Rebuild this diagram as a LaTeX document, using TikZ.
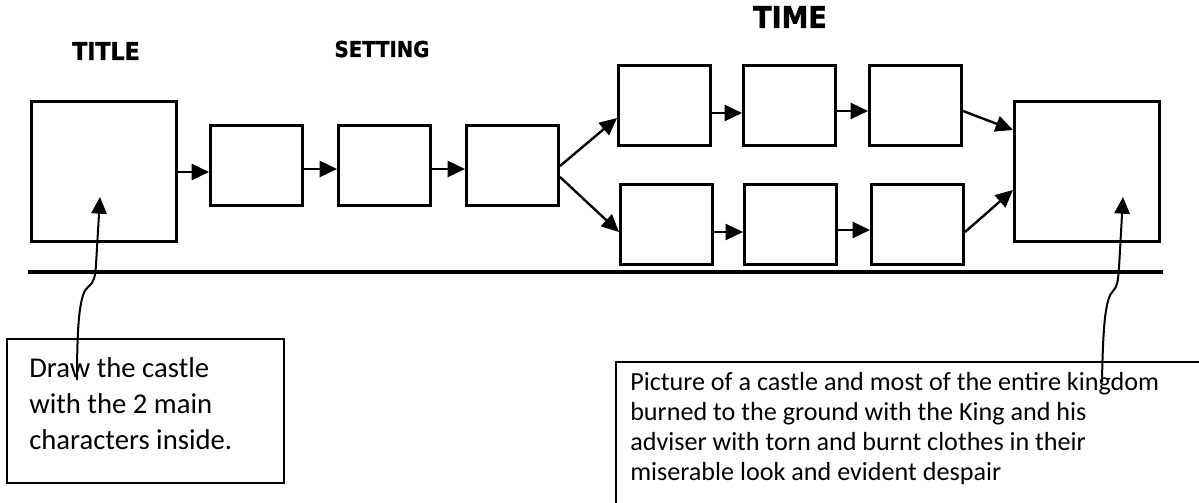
\documentclass[tikz,border=0pt]{standalone}
\usepackage{fontspec}
\usetikzlibrary{arrows.meta}
\newfontfamily\headfont{DejaVu Sans}[FakeStretch=0.9,FakeBold=1.2]
\newfontfamily\bodyfont{Carlito}
\tikzset{
  box/.style={draw=black, line width=2.25pt, inner sep=0pt, fill=white},
  bigbox/.style={box, minimum width=108.75pt, minimum height=105pt},
  smallbox/.style={box, minimum width=69pt, minimum height=60pt},
  arr/.style={line width=1.8pt, -{Triangle[length=13pt,width=12pt]}},
  curvearr/.style={line width=1.5pt, -{Triangle[length=12.5pt,width=11.5pt]}},
  heading/.style={anchor=base, inner sep=0pt, font=\headfont\bfseries},
  note/.style={anchor=base west, inner sep=0pt, align=left}
}
\begin{document}
\begin{tikzpicture}[x=0.75pt,y=-0.75pt]
\useasboundingbox (0,0) rectangle (1199,503);
% headings
\node[heading, font=\headfont\bfseries\fontsize{18.4}{22}\selectfont] (tTitle) at (106,60) {TITLE};
\node[heading, font=\headfont\bfseries\fontsize{16.4}{20}\selectfont] (tSetting) at (382,57) {SETTING};
\node[heading, font=\headfont\bfseries\fontsize{22.5}{26}\selectfont] (tTime) at (790,28) {TIME};
% boxes
\node[bigbox] (A) at (104,171.5) {};
\node[smallbox] (B1) at (256.5,165.5) {};
\node[smallbox] (B2) at (384.5,165.5) {};
\node[smallbox] (B3) at (512.5,165.5) {};
\node[smallbox] (U1) at (664.5,105.5) {};
\node[smallbox] (U2) at (789.5,105.5) {};
\node[smallbox] (U3) at (915.5,105.5) {};
\node[smallbox] (L1) at (666.5,224.5) {};
\node[smallbox] (L2) at (790.5,224.5) {};
\node[smallbox] (L3) at (917.5,224.5) {};
\node[bigbox] (F) at (1087,171.5) {};
% straight arrows
\draw[arr] (A.east |- 0,172) -- (B1.west |- 0,172);
\draw[arr] (B1.east |- 0,169) -- (B2.west |- 0,169);
\draw[arr] (B2.east |- 0,169) -- (B3.west |- 0,169);
\draw[arr] (B3.east |- 0,166) -- (U1.west |- 0,118);
\draw[arr] (B3.east |- 0,177) -- (L1.west |- 0,232);
\draw[arr] (U1.east |- 0,113) -- (U2.west |- 0,113);
\draw[arr] (U2.east |- 0,111) -- (U3.west |- 0,111);
\draw[arr] (L1.east |- 0,232) -- (L2.west |- 0,232);
\draw[arr] (L2.east |- 0,230) -- (L3.west |- 0,230);
\draw[arr] (U3.east |- 0,111) -- (F.west |- 0,130);
\draw[arr] (L3.east |- 0,232) -- (F.west |- 0,190);
% divider line
\draw[line width=2.4pt] (28,272) -- (1163,272);
% left note box
\draw[line width=1pt] (7,339) rectangle (284,483);
\node[note, font=\bodyfont\fontsize{21.5}{27}\selectfont] (nL) at (29,449)
  {Draw the castle\\with the 2 main\\characters inside.};
% right note box (runs off the page)
\draw[line width=1pt] (1199,362) -- (616,362) -- (616,503);
\node[note, font=\bodyfont\fontsize{19.6}{22.5}\selectfont] (nR) at (630,480)
  {Picture of a castle and most of the entire kingdom\\burned to the ground with the King and his\\adviser with torn and burnt clothes in their\\miserable look and evident despair};
% curved connectors
\coordinate (lcS) at (77,380);
\coordinate (lcE) at (100,197);
\coordinate (rcS) at (1102,382);
\coordinate (rcE) at (1123,197);
\draw[curvearr] (lcS) .. controls (77,320) and (80,293) .. (88,287)
  .. controls (94,282) and (95,278) .. (96,265) -- (lcE);
\draw[curvearr] (rcS) .. controls (1103,320) and (1106,298) .. (1113,291)
  .. controls (1117,287) and (1118,282) .. (1119,268) -- (rcE);
\end{tikzpicture}
\end{document}
